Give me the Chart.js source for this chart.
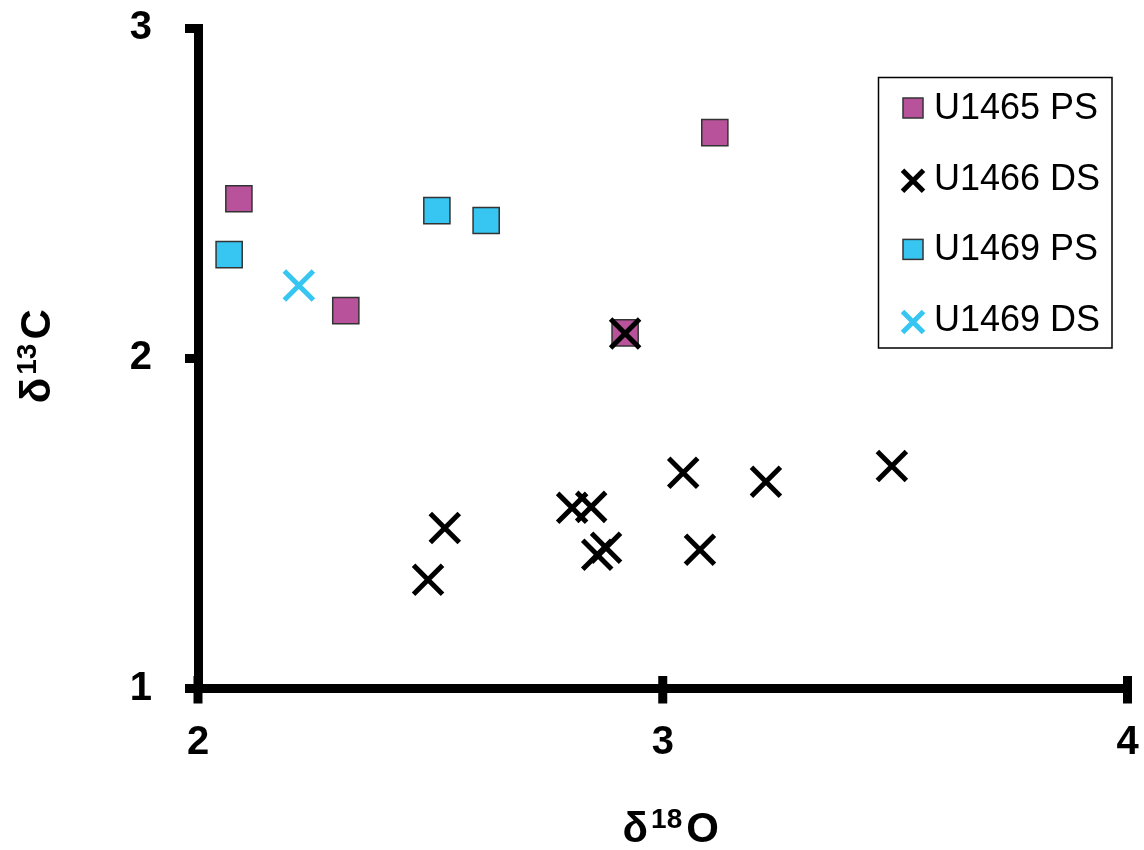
<!DOCTYPE html>
<html>
<head>
<meta charset="utf-8">
<title>δ13C vs δ18O</title>
<script src="https://cdn.jsdelivr.net/npm/chart.js@4.4.1/dist/chart.umd.min.js"></script>
<style>
  html, body { margin: 0; padding: 0; background: #ffffff; }
  #wrap { width: 1144px; height: 850px; }
  canvas { display: block; }
</style>
</head>
<body>
<div id="wrap"><canvas id="chart" width="1144" height="850"></canvas></div>
<script>
// Stable isotope values per site / species group: x = δ18O, y = δ13C
const u1465psX = [2.088, 2.318, 2.919, 3.112];
const u1465psY = [2.483, 2.144, 2.077, 2.683];

const u1466dsX = [2.919, 2.495, 2.531, 2.805, 2.846, 2.859, 2.878, 3.044, 3.080, 3.222, 3.493];
const u1466dsY = [2.075, 1.329, 1.486, 1.547, 1.550, 1.405, 1.426, 1.653, 1.420, 1.626, 1.674];

const u1469psX = [2.067, 2.514, 2.620];
const u1469psY = [2.314, 2.447, 2.417];

const u1469dsX = [2.217];
const u1469dsY = [2.220];

const seriesNames = ['U1465 PS', 'U1466 DS', 'U1469 PS', 'U1469 DS'];
const xTickValues = [2, 3, 4];
const yTickValues = [1, 2, 3];

const FONT = '"Liberation Sans", Arial, Helvetica, sans-serif';
const MAGENTA = '#b8539b';
const CYAN = '#36c6f1';

function pairs(xs, ys) {
  return xs.map((x, i) => ({ x: x, y: ys[i] }));
}

// Text made of runs, some raised as superscripts; centred on (cx, baseline)
function drawRuns(ctx, runs, cx, baseline) {
  let total = 0;
  runs.forEach(r => {
    ctx.font = r.font;
    r.w = ctx.measureText(r.text).width;
    total += r.w + (r.gap || 0);
  });
  let x = cx - total / 2;
  ctx.textAlign = 'left';
  ctx.textBaseline = 'alphabetic';
  runs.forEach(r => {
    ctx.font = r.font;
    ctx.fillText(r.text, x, baseline - (r.rise || 0));
    x += r.w + (r.gap || 0);
  });
}

function titleRuns(lead, sup, tail) {
  return [
    { text: lead, font: 'bold 42px ' + FONT, gap: 3 },
    { text: sup, font: 'bold 28px ' + FONT, rise: 14, gap: 4 },
    { text: tail, font: 'bold 42px ' + FONT }
  ];
}

// Axis titles with superscript isotope numbers
const axisTitles = {
  id: 'axisTitles',
  afterDraw(chart) {
    const ctx = chart.ctx;
    const a = chart.chartArea;
    ctx.save();
    ctx.fillStyle = '#000';
    drawRuns(ctx, titleRuns('δ', '18', 'O'), (a.left + a.right) / 2 + 8, a.bottom + 153.5);
    ctx.translate(50, (a.top + a.bottom) / 2 - 2);
    ctx.rotate(-Math.PI / 2);
    drawRuns(ctx, titleRuns('δ', '13', 'C'), 0, 0);
    ctx.restore();
  }
};

// Tick marks that cross the thick x axis line
const xCrossTicks = {
  id: 'xCrossTicks',
  afterDraw(chart) {
    const ctx = chart.ctx;
    const xs = chart.scales.x;
    const bottom = chart.chartArea.bottom;
    ctx.save();
    ctx.fillStyle = '#000';
    xs.ticks.forEach(t => {
      const px = xs.getPixelForValue(t.value);
      ctx.fillRect(px - 4.5, bottom - 12.5, 9, 27.5);
    });
    ctx.restore();
  }
};

function drawMarker(ctx, style, x, y, half, fill, stroke, lw) {
  ctx.save();
  ctx.lineWidth = lw;
  ctx.strokeStyle = stroke;
  ctx.fillStyle = fill;
  if (style === 'rect') {
    ctx.fillRect(x - half, y - half, half * 2, half * 2);
    ctx.strokeRect(x - half, y - half, half * 2, half * 2);
  } else {
    ctx.beginPath();
    ctx.moveTo(x - half, y - half);
    ctx.lineTo(x + half, y + half);
    ctx.moveTo(x + half, y - half);
    ctx.lineTo(x - half, y + half);
    ctx.stroke();
  }
  ctx.restore();
}

// Framed legend placed inside the plot, upper right
const boxedLegend = {
  id: 'boxedLegend',
  afterDraw(chart, args, opts) {
    const ctx = chart.ctx;
    const a = chart.chartArea;
    const bx = a.right - opts.right - opts.width;
    const by = a.top + opts.top;
    ctx.save();
    ctx.fillStyle = '#fff';
    ctx.fillRect(bx, by, opts.width, opts.height);
    ctx.lineWidth = 1.5;
    ctx.strokeStyle = '#000';
    ctx.strokeRect(bx, by, opts.width, opts.height);
    chart.data.datasets.forEach((ds, i) => {
      const base = by + opts.firstBaseline + i * opts.step;
      const sx = bx + opts.symbolX;
      if (ds.pointStyle === 'rect') {
        drawMarker(ctx, 'rect', sx, base - 11, 10, ds.pointBackgroundColor, ds.pointBorderColor, 1.5);
      } else {
        drawMarker(ctx, 'cross', sx, base - 9, 10.5, 'transparent', ds.pointBorderColor, 5);
      }
      ctx.fillStyle = '#000';
      ctx.font = '36px ' + FONT;
      ctx.textAlign = 'left';
      ctx.textBaseline = 'alphabetic';
      ctx.fillText(ds.label, bx + opts.textX, base);
    });
    ctx.restore();
  }
};

const squareStyle = {
  pointStyle: 'rect',
  pointRadius: 18.5,
  pointHoverRadius: 18.5,
  pointBorderWidth: 1.5,
  pointBorderColor: '#333333'
};
const crossStyle = {
  pointStyle: 'crossRot',
  pointRadius: 20.5,
  pointHoverRadius: 20.5,
  pointBorderWidth: 5
};

new Chart(document.getElementById('chart'), {
  type: 'scatter',
  data: {
    datasets: [
      Object.assign({ label: seriesNames[0], data: pairs(u1465psX, u1465psY), order: 1,
        pointBackgroundColor: MAGENTA }, squareStyle),
      Object.assign({ label: seriesNames[1], data: pairs(u1466dsX, u1466dsY), order: 0,
        pointBackgroundColor: '#000000', pointBorderColor: '#000000' }, crossStyle),
      Object.assign({ label: seriesNames[2], data: pairs(u1469psX, u1469psY), order: 2,
        pointBackgroundColor: CYAN }, squareStyle),
      Object.assign({ label: seriesNames[3], data: pairs(u1469dsX, u1469dsY), order: 3,
        pointBackgroundColor: CYAN, pointBorderColor: CYAN }, crossStyle)
    ]
  },
  options: {
    responsive: false,
    animation: false,
    devicePixelRatio: 1,
    events: [],
    layout: { autoPadding: false, padding: { top: 28, right: 16.5, left: 0, bottom: 0 } },
    plugins: {
      legend: { display: false },
      tooltip: { enabled: false },
      boxedLegend: { right: 15.5, top: 49.5, width: 233.5, height: 270.5,
        symbolX: 34.5, textX: 55.5, firstBaseline: 41.5, step: 70.7 }
    },
    scales: {
      x: {
        type: 'linear',
        min: 2,
        max: 4,
        afterBuildTicks: s => { s.ticks = xTickValues.map(v => ({ value: v })); },
        afterFit: s => { s.height = 161.5; s.paddingLeft = 0; s.paddingRight = 0; },
        grid: { display: false },
        border: { display: true, width: 9, color: '#000' },
        ticks: { color: '#000', padding: 22.5, font: { family: FONT, size: 40, weight: 'bold' } }
      },
      y: {
        type: 'linear',
        min: 1,
        max: 3,
        afterBuildTicks: s => { s.ticks = yTickValues.map(v => ({ value: v })); },
        afterFit: s => { s.width = 198; s.paddingTop = 0; s.paddingBottom = 0; },
        grid: { display: true, drawOnChartArea: false, drawTicks: true, tickLength: 13,
          tickWidth: 9, tickColor: '#000' },
        border: { display: true, width: 9, color: '#000' },
        ticks: { color: '#000', padding: 33, font: { family: FONT, size: 40, weight: 'bold' } }
      }
    }
  },
  plugins: [xCrossTicks, axisTitles, boxedLegend]
});
</script>
</body>
</html>
